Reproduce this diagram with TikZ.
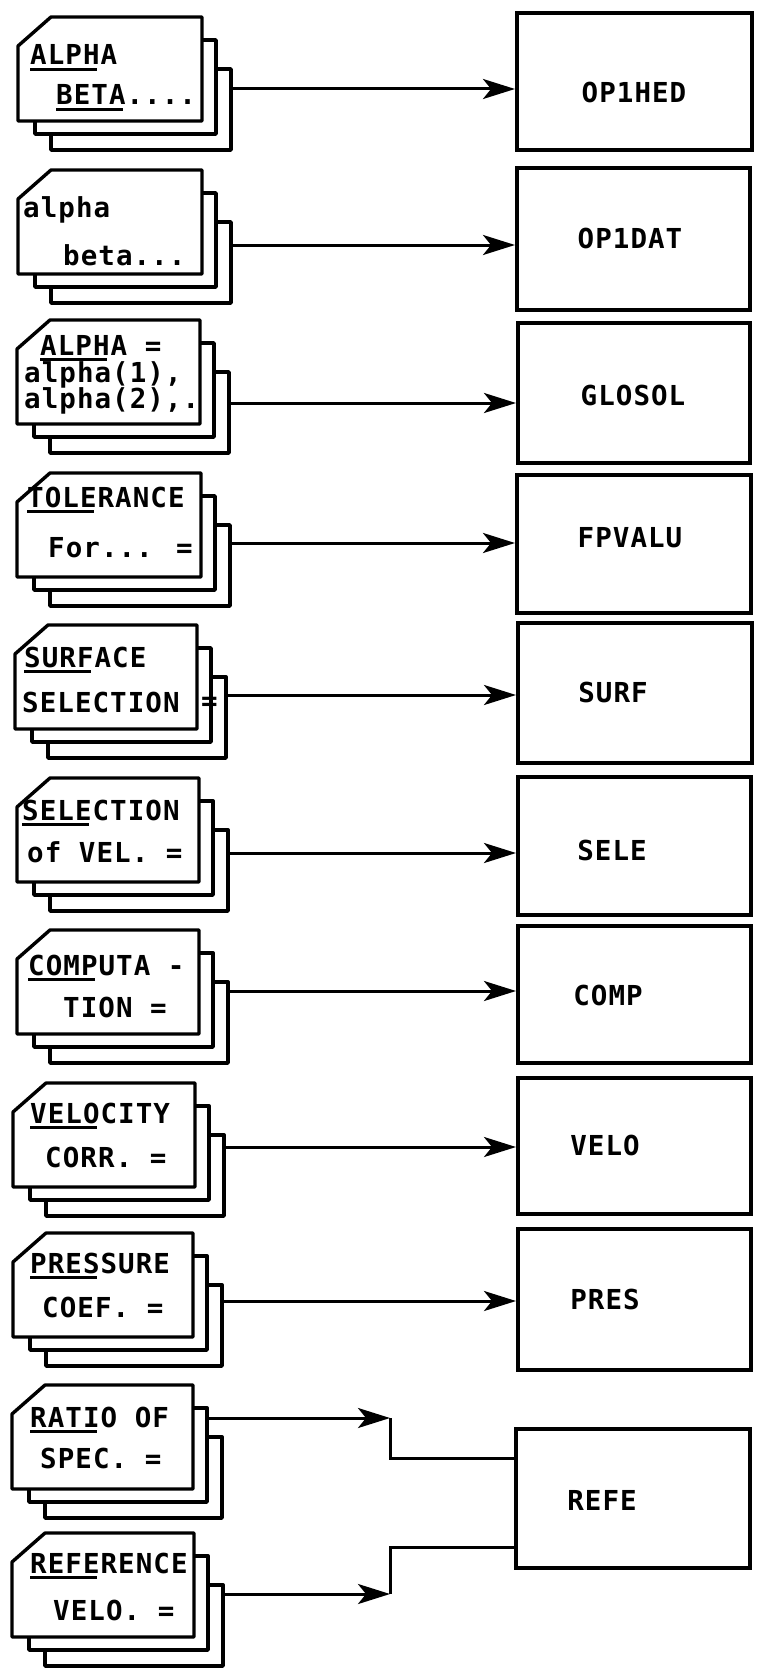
\documentclass[tikz,border=0pt]{standalone}
\usepackage{fontspec}
\usetikzlibrary{arrows.meta}
\newfontfamily\scanmono[LetterSpace=3.8]{DejaVu Sans Mono}
\newcommand\myul[1]{\setbox0\hbox{#1}\rlap{\rule[-6pt]{\dimexpr\wd0-3pt\relax}{2.6pt}}#1}
\newcommand\docsheets[3]{%
  \draw[sheet] ({#1+33},{#3+52}) rectangle ({#2+29},{#3+133});
  \draw[sheet] ({#1+17},{#3+23}) rectangle ({#2+14},{#3+117});
  \draw[sheet] (#1,{#3+29}) -- ({#1+33},#3) -- (#2,#3) -- (#2,{#3+104}) -- (#1,{#3+104}) -- cycle;
}
\tikzset{
  sheet/.style={draw, fill=white, line width=3.4pt, line join=round},
  modbox/.style={draw, line width=4pt, fill=white, inner sep=0pt},
  txt/.style={font=\scanmono\bfseries\fontsize{27.5}{30}\selectfont, inner sep=0pt, anchor=base west},
  lbl/.style={font=\scanmono\bfseries\fontsize{27.5}{30}\selectfont, inner sep=0pt, anchor=center},
  conn/.style={line width=3pt},
  arr/.style={conn, -{Stealth[length=32pt,width=20pt,inset=8pt]}}
}
\begin{document}
\begin{tikzpicture}[x=1pt,y=-1pt]
\fill[white] (0,0) rectangle (758,1672);
\useasboundingbox (0,0) rectangle (758,1672);

% documents (stacked sheets)
\docsheets{18}{202}{17}
\docsheets{18}{202}{170}
\docsheets{17}{200}{320}
\docsheets{17}{201}{473}
\docsheets{15}{197}{625}
\docsheets{17}{199}{778}
\docsheets{17}{199}{930}
\docsheets{13}{195}{1083}
\docsheets{13}{193}{1233}
\docsheets{12}{193}{1385}
\docsheets{12}{194}{1533}

% document texts
\node[txt] (t0a) at (30,65) {\myul{ALPH}A};
\node[txt] (t0b) at (56,105) {\myul{BETA}....};
\node[txt] (t1a) at (23,218) {alpha};
\node[txt] (t1b) at (63,265) {beta...};
\node[txt] (t2a) at (40,355) {\myul{ALPH}A =};
\node[txt] (t2b) at (24,382) {alpha(1),};
\node[txt] (t2c) at (24,408) {alpha(2),.};
\node[txt] (t3a) at (27,507) {\myul{TOLE}RANCE};
\node[txt] (t3b) at (48,557) {For... =};
\node[txt] (t4a) at (24,667) {\myul{SURF}ACE};
\node[txt] (t4b) at (22,712) {SELECTION};
\node[txt] (t4c) at (201,710) {=};
\node[txt] (t5a) at (22,820) {\myul{SELE}CTION};
\node[txt] (t5b) at (27,862) {of VEL. =};
\node[txt] (t6a) at (28,975) {\myul{COMP}UTA -};
\node[txt] (t6b) at (63,1017) {TION =};
\node[txt] (t7a) at (30,1123) {\myul{VELO}CITY};
\node[txt] (t7b) at (45,1167) {CORR. =};
\node[txt] (t8a) at (30,1273) {\myul{PRES}SURE};
\node[txt] (t8b) at (42,1317) {COEF. =};
\node[txt] (t9a) at (30,1427) {\myul{RATI}O OF};
\node[txt] (t9b) at (40,1468) {SPEC. =};
\node[txt] (t10a) at (30,1573) {\myul{REFE}RENCE};
\node[txt] (t10b) at (53,1620) {VELO. =};

% module boxes
\node[modbox, minimum width=235pt, minimum height=137pt] (b0) at (634.5,81.5) {};
\node[modbox, minimum width=233pt, minimum height=142pt] (b1) at (633.5,239) {};
\node[modbox, minimum width=232pt, minimum height=140pt] (b2) at (634,393) {};
\node[modbox, minimum width=234pt, minimum height=138pt] (b3) at (634,544) {};
\node[modbox, minimum width=234pt, minimum height=140pt] (b4) at (635,693) {};
\node[modbox, minimum width=233pt, minimum height=138pt] (b5) at (634.5,846) {};
\node[modbox, minimum width=233pt, minimum height=137pt] (b6) at (634.5,994.5) {};
\node[modbox, minimum width=233pt, minimum height=136pt] (b7) at (634.5,1146) {};
\node[modbox, minimum width=233pt, minimum height=141pt] (b8) at (634.5,1299.5) {};
\node[modbox, minimum width=234pt, minimum height=139pt] (refe) at (633,1498.5) {};

\node[lbl] (n0) at (634,92) {OP1HED};
\node[lbl] (n1) at (630,238) {OP1DAT};
\node[lbl] (n2) at (633,395) {GLOSOL};
\node[lbl] (n3) at (630,538) {FPVALU};
\node[lbl] (n4) at (613,692) {SURF};
\node[lbl] (n5) at (612,850) {SELE};
\node[lbl] (n6) at (608,995) {COMP};
\node[lbl] (n7) at (605,1145) {VELO};
\node[lbl] (n8) at (605,1299) {PRES};
\node[lbl] (n9) at (602,1500) {REFE};

% connector start points on the document stacks
\coordinate (d0) at (231,89);
\coordinate (d1) at (231,245);
\coordinate (d2) at (229,403);
\coordinate (d3) at (230,543);
\coordinate (d4) at (226,695);
\coordinate (d5) at (228,853);
\coordinate (d6) at (228,991);
\coordinate (d7) at (224,1147);
\coordinate (d8) at (222,1301);
\coordinate (d9) at (207,1418);
\coordinate (d10) at (223,1594);
\coordinate (c9) at (390,1418);
\coordinate (c10) at (390,1594);

\draw[arr] (d0) -- (d0 -| b0.west);
\draw[arr] (d1) -- (d1 -| b1.west);
\draw[arr] (d2) -- (d2 -| b2.west);
\draw[arr] (d3) -- (d3 -| b3.west);
\draw[arr] (d4) -- (d4 -| b4.west);
\draw[arr] (d5) -- (d5 -| b5.west);
\draw[arr] (d6) -- (d6 -| b6.west);
\draw[arr] (d7) -- (d7 -| b7.west);
\draw[arr] (d8) -- (d8 -| b8.west);
\draw[arr] (d9) -- (c9);
\draw[arr] (d10) -- (c10);
\draw[conn] (c9) |- ([yshift=40pt]refe.west);
\draw[conn] (c10) |- ([yshift=-48.5pt]refe.west);
\end{tikzpicture}
\end{document}
